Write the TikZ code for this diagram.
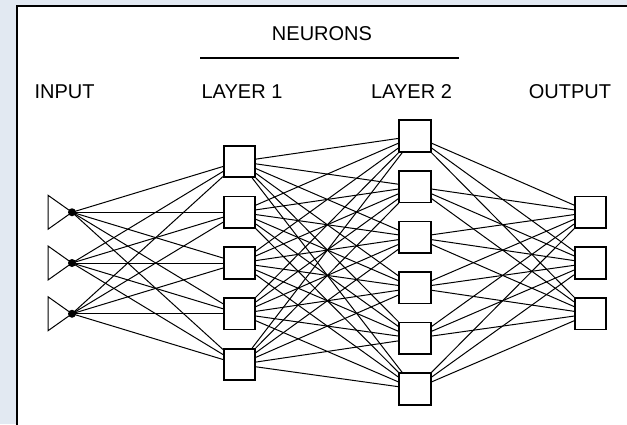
\documentclass[tikz,border=0pt]{standalone}
\usepackage{fontspec}
\setmainfont{Liberation Sans}
\definecolor{desk}{RGB}{226,233,242}
\tikzset{
    neuron/.style={draw,line width=1.6pt,fill=white,minimum size=31.5pt,inner sep=0pt},
    heading/.style={font=\fontsize{20}{24}\selectfont,anchor=base,inner sep=0pt},
    link/.style={line width=1pt}
}
\begin{document}
\begin{tikzpicture}[x=1pt,y=-1pt]
            \useasboundingbox (0,0) rectangle (627,424);
            \clip (0,0) rectangle (627,424);
            \fill[desk] (0,0) rectangle (627,424);
            \draw[line width=2pt,fill=white] (17,6) rectangle (660,460);

            % titles
            \node[heading] (neurons) at (322,40) {NEURONS};
            \draw[line width=1.6pt] (200,58) -- (459,58);
            \node[heading] (tinput) at (64.5,98.5) {INPUT};
            \node[heading] (tlayera) at (242,98.5) {LAYER 1};
            \node[heading] (tlayerb) at (411.5,98.5) {LAYER 2};
            \node[heading] (toutput) at (570,98.5) {OUTPUT};

            % inputs
            \foreach \i/\y in {1/212.25,2/263,3/313.75} {
                \coordinate (I\i) at (72,\y);
                \draw[line width=1pt] (I\i) -- ++(-24,-17) -- ++(0,34) -- cycle;
                \fill (I\i) circle (4pt);
            }

            % neurons
            \foreach \i in {1,...,5}
                \node[neuron] (A\i) at (239.5,{110.75+50.75*\i}) {};
            \foreach \i in {1,...,6}
                \node[neuron] (B\i) at (415,{85.4+50.6*\i}) {};
            \foreach \i in {1,2,3}
                \node[neuron] (O\i) at (590.5,{161.5+50.75*\i}) {};

            % links
            \foreach \i in {1,2,3}
                \foreach \j in {1,...,5}
                    \draw[link] (I\i) -- (A\j);
            \foreach \i in {1,...,5}
                \foreach \j in {1,...,6}
                    \draw[link] (A\i) -- (B\j);
            \foreach \i in {1,...,6}
                \foreach \j in {1,2,3}
                    \draw[link] (B\i) -- (O\j);
        \end{tikzpicture}
\end{document}
